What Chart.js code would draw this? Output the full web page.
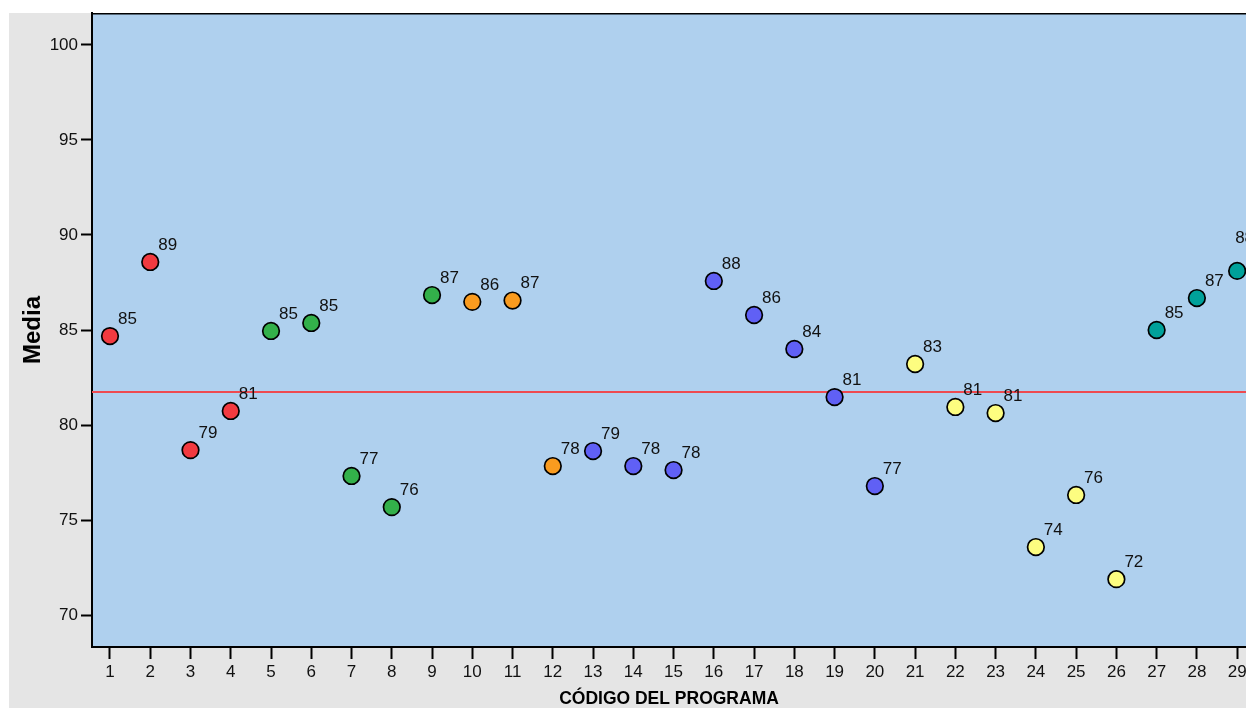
<!DOCTYPE html>
<html>
<head>
<meta charset="utf-8">
<script src="https://cdn.jsdelivr.net/npm/chart.js@4.4.1/dist/chart.umd.min.js"></script>
<style>
  html, body { margin: 0; padding: 0; background: #ffffff; }
  #wrap { width: 1246px; height: 708px; position: relative; }
</style>
</head>
<body>
<div id="wrap"><canvas id="c" width="1246" height="708"></canvas></div>
<script>
// ---- data ----
const programCodes = [1,2,3,4,5,6,7,8,9,10,11,12,13,14,15,16,17,18,19,20,21,22,23,24,25,26,27,28,29];
const meanValues = [84.68,88.58,78.68,80.74,84.95,85.37,77.32,75.68,86.84,86.48,86.55,77.84,78.63,77.84,77.63,87.58,85.79,84.0,81.47,76.79,83.21,80.95,80.63,73.58,76.32,71.89,85.0,86.68,88.11];
const pointLabels = ["85","89","79","81","85","85","77","76","87","86","87","78","79","78","78","88","86","84","81","77","83","81","81","74","76","72","85","87","88"];
const groupOfProgram = [0,0,0,0,1,1,1,1,1,2,2,2,3,3,3,3,3,3,3,3,4,4,4,4,4,4,5,5,5];
const groupColors = ["#f23a40","#33b04a","#f99b1f","#6060f5","#fdfd80","#00a19a"];
const overallMean = [81.74];
const yTicks = [70,75,80,85,90,95,100];
const xTicks = programCodes;
const xRange = [0.553, 29.22];
const yRange = [68.32, 101.68];

const scatterData = programCodes.map((c, i) => ({x: c, y: meanValues[i]}));
const pointColors = groupOfProgram.map(g => groupColors[g]);
const meanLineData = [{x: xRange[0], y: overallMean[0]}, {x: xRange[1], y: overallMean[0]}];

const FONT = "'Liberation Sans', Arial, Helvetica, sans-serif";

const bgPlugin = {
  id: 'bg',
  beforeDraw(chart) {
    const ctx = chart.ctx, a = chart.chartArea;
    ctx.save();
    ctx.fillStyle = '#e5e5e5';
    ctx.fillRect(9, 13, chart.width - 9, chart.height - 13);
    ctx.fillStyle = '#afd0ee';
    ctx.fillRect(a.left, a.top, a.right - a.left, a.bottom - a.top);
    ctx.restore();
  },
  afterDraw(chart) {
    const ctx = chart.ctx, a = chart.chartArea;
    ctx.save();
    ctx.strokeStyle = '#000';
    ctx.lineWidth = 1.5;
    ctx.beginPath();
    ctx.moveTo(a.left, a.top + 0.75);
    ctx.lineTo(a.right, a.top + 0.75);
    ctx.stroke();
    ctx.restore();
  }
};

const labelPlugin = {
  id: 'pointLabels',
  afterDatasetsDraw(chart) {
    const meta = chart.getDatasetMeta(1);
    const ctx = chart.ctx;
    const a = chart.chartArea;
    ctx.save();
    ctx.font = '17px ' + FONT;
    ctx.fillStyle = '#111111';
    ctx.textAlign = 'left';
    ctx.textBaseline = 'middle';
    meta.data.forEach((el, i) => {
      const w = ctx.measureText(pointLabels[i]).width;
      if (el.x + 8 + w > a.right) {
        ctx.fillText(pointLabels[i], el.x - 2, el.y - 33);
      } else {
        ctx.fillText(pointLabels[i], el.x + 8, el.y - 17);
      }
    });
    ctx.restore();
  }
};

new Chart(document.getElementById('c'), {
  type: 'scatter',
  data: {
    datasets: [
      {
        type: 'line',
        data: meanLineData,
        borderColor: '#ee4a50',
        borderWidth: 2,
        pointRadius: 0,
        fill: false,
        order: 2
      },
      {
        data: scatterData,
        backgroundColor: pointColors,
        borderColor: '#000000',
        borderWidth: 1.7,
        pointRadius: 8.3,
        pointHoverRadius: 8.3,
        clip: false,
        order: 1
      }
    ]
  },
  options: {
    responsive: false,
    animation: false,
    devicePixelRatio: 1,
    layout: { autoPadding: false, padding: { top: 13, left: 0, right: 0, bottom: 0 } },
    plugins: { legend: { display: false }, tooltip: { enabled: false } },
    scales: {
      x: {
        type: 'linear',
        min: xRange[0], max: xRange[1],
        afterBuildTicks(s) { s.ticks = xTicks.map(v => ({value: v})); },
        afterFit(s) { s.height = 61; s.paddingLeft = 0; s.paddingRight = 0; },
        grid: { drawOnChartArea: false, tickLength: 12, tickColor: '#000', tickWidth: 2 },
        border: { color: '#000', width: 2 },
        ticks: { color: '#111111', font: { family: FONT, size: 17 }, padding: 3, maxRotation: 0, autoSkip: false },
        title: { display: true, text: 'CÓDIGO DEL PROGRAMA', color: '#000', font: { family: FONT, size: 17.5, weight: 'bold', lineHeight: 1 }, padding: { top: 0, bottom: 0 } }
      },
      y: {
        min: yRange[0], max: yRange[1],
        afterBuildTicks(s) { s.ticks = yTicks.map(v => ({value: v})); },
        afterFit(s) { s.width = 92; s.paddingTop = 0; s.paddingBottom = 0; },
        grid: { drawOnChartArea: false, tickLength: 11, tickColor: '#000', tickWidth: 2 },
        border: { color: '#000', width: 2 },
        ticks: { color: '#111111', font: { family: FONT, size: 17 }, padding: 3 },
        title: { display: true, text: 'Media', color: '#000', font: { family: FONT, size: 24, weight: 'bold', lineHeight: 1.2 }, padding: 19 }
      }
    }
  },
  plugins: [bgPlugin, labelPlugin]
});
</script>
</body>
</html>
